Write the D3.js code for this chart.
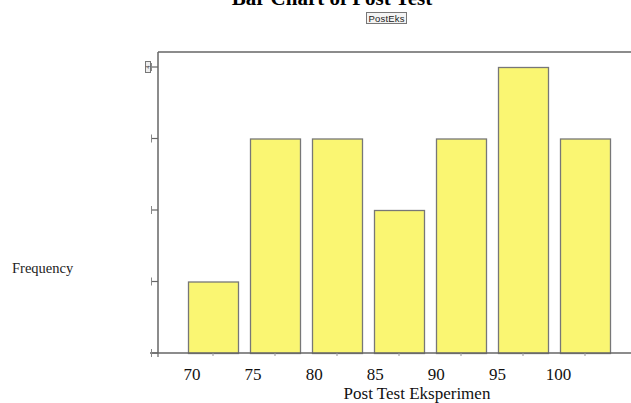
<!DOCTYPE html>
<html><head><meta charset="utf-8">
<script src="https://cdn.jsdelivr.net/npm/d3@7"></script>
<style>body{margin:0;background:#fff}svg{display:block}</style>
</head><body>
<svg id="c" width="631" height="403"></svg>
<script>
const categories = ["70","75","80","85","90","95","100"];
const frequencies = [1,3,3,2,3,4,3];
const xTickValues = [70,75,80,85,90,95,100];
const yTickValues = [0,1,2,3,4];
const title = "Bar Chart of Post Test";
const legendLabel = "PostEks";
const xTitle = "Post Test Eksperimen";
const yTitle = "Frequency";

(function(){
const svg = d3.select("#c");
const pLeft = 158, pRight = 631, pTop = 52, pBottom = 353;
const serif = "'Liberation Serif','DejaVu Serif',serif";

const x = d3.scaleBand().domain(categories).range([182, 616])
  .paddingInner(12/62).paddingOuter(6/62);
const xLin = d3.scaleLinear().domain([70,100]).range([191.5, 558]);
const y = d3.scaleLinear().domain([0,4]).range([pBottom, 67]);

// title
svg.append("text").attr("x", 332).attr("y", 5).attr("text-anchor","middle")
  .attr("font-family", serif).attr("font-weight","bold").attr("font-size", 21)
  .text(title);
// legend box
const lg = svg.append("g");
lg.append("rect").attr("x", 366.5).attr("y", 12.5).attr("width", 40).attr("height", 11)
  .attr("fill","#f4f4f4").attr("stroke","#777").attr("stroke-width",1);
lg.append("text").attr("x", 386.5).attr("y", 21.5).attr("text-anchor","middle")
  .attr("font-family","'Liberation Sans',Arial,sans-serif").attr("font-size", 9.5).attr("fill","#222")
  .attr("textLength", 36).text(legendLabel);

// bars
svg.append("g").selectAll("rect").data(frequencies).join("rect")
  .attr("x", (d,i) => x(categories[i]) + 0.5)
  .attr("y", d => y(d) + 0.5)
  .attr("width", x.bandwidth())
  .attr("height", d => pBottom - y(d))
  .attr("fill", "#faf672").attr("stroke", "#777").attr("stroke-width", 1.3);

// frame
const frame = svg.append("g").attr("stroke","#666").attr("stroke-width",1.5).attr("fill","none");
frame.append("line").attr("x1",pLeft).attr("x2",pRight).attr("y1",pTop).attr("y2",pTop);
frame.append("line").attr("x1",pLeft).attr("x2",pLeft).attr("y1",pTop).attr("y2",pBottom);
frame.append("line").attr("x1",150).attr("x2",pRight).attr("y1",pBottom).attr("y2",pBottom);

// small x tick marks at bar centers
svg.append("g").selectAll("line").data(categories).join("line")
  .attr("x1", d => x(d) + x.bandwidth()/2).attr("x2", d => x(d) + x.bandwidth()/2)
  .attr("y1", pBottom).attr("y2", pBottom + 3).attr("stroke","#999").attr("stroke-width",1);
svg.append("line").attr("x1",pLeft).attr("x2",pLeft).attr("y1",pBottom).attr("y2",pBottom+4)
  .attr("stroke","#666").attr("stroke-width",1.2);

// x axis labels
const xAxis = d3.axisBottom(xLin).tickValues(xTickValues).tickSize(0).tickPadding(0);
const gx = svg.append("g").attr("transform", `translate(0,${pBottom+15})`).call(xAxis);
gx.select(".domain").remove();
gx.selectAll("text").attr("font-family", serif).attr("font-size", 17).attr("fill","#111")
  .attr("dy", null).attr("y", 12);

// y ticks
const gy = svg.append("g");
yTickValues.forEach(v => {
  gy.append("line").attr("x1",151).attr("x2",pLeft).attr("y1",y(v)).attr("y2",y(v))
    .attr("stroke","#666").attr("stroke-width",1.2);
  gy.append("line").attr("x1",151.5).attr("x2",151.5).attr("y1",y(v)-4).attr("y2",y(v)+4)
    .attr("stroke","#888").attr("stroke-width",1);
});
const topV = yTickValues[yTickValues.length-1];
gy.append("rect").attr("x",145.5).attr("y",y(topV)-5.5).attr("width",5).attr("height",11)
  .attr("fill","#eee").attr("stroke","#777").attr("stroke-width",1);
gy.append("text").attr("transform",`translate(150,${y(topV)}) rotate(-90)`).attr("text-anchor","middle")
  .attr("font-family","'Liberation Sans',sans-serif").attr("font-size",5).attr("fill","#333")
  .text(String(topV));

// axis titles
svg.append("text").attr("x", 417).attr("y", 398.5).attr("text-anchor","middle")
  .attr("font-family", serif).attr("font-size", 17).attr("fill","#111").text(xTitle);
svg.append("text").attr("x", 12).attr("y", 272.5)
  .attr("font-family", serif).attr("font-size", 14.5).attr("fill","#222").text(yTitle);
})();
</script>
</body></html>
